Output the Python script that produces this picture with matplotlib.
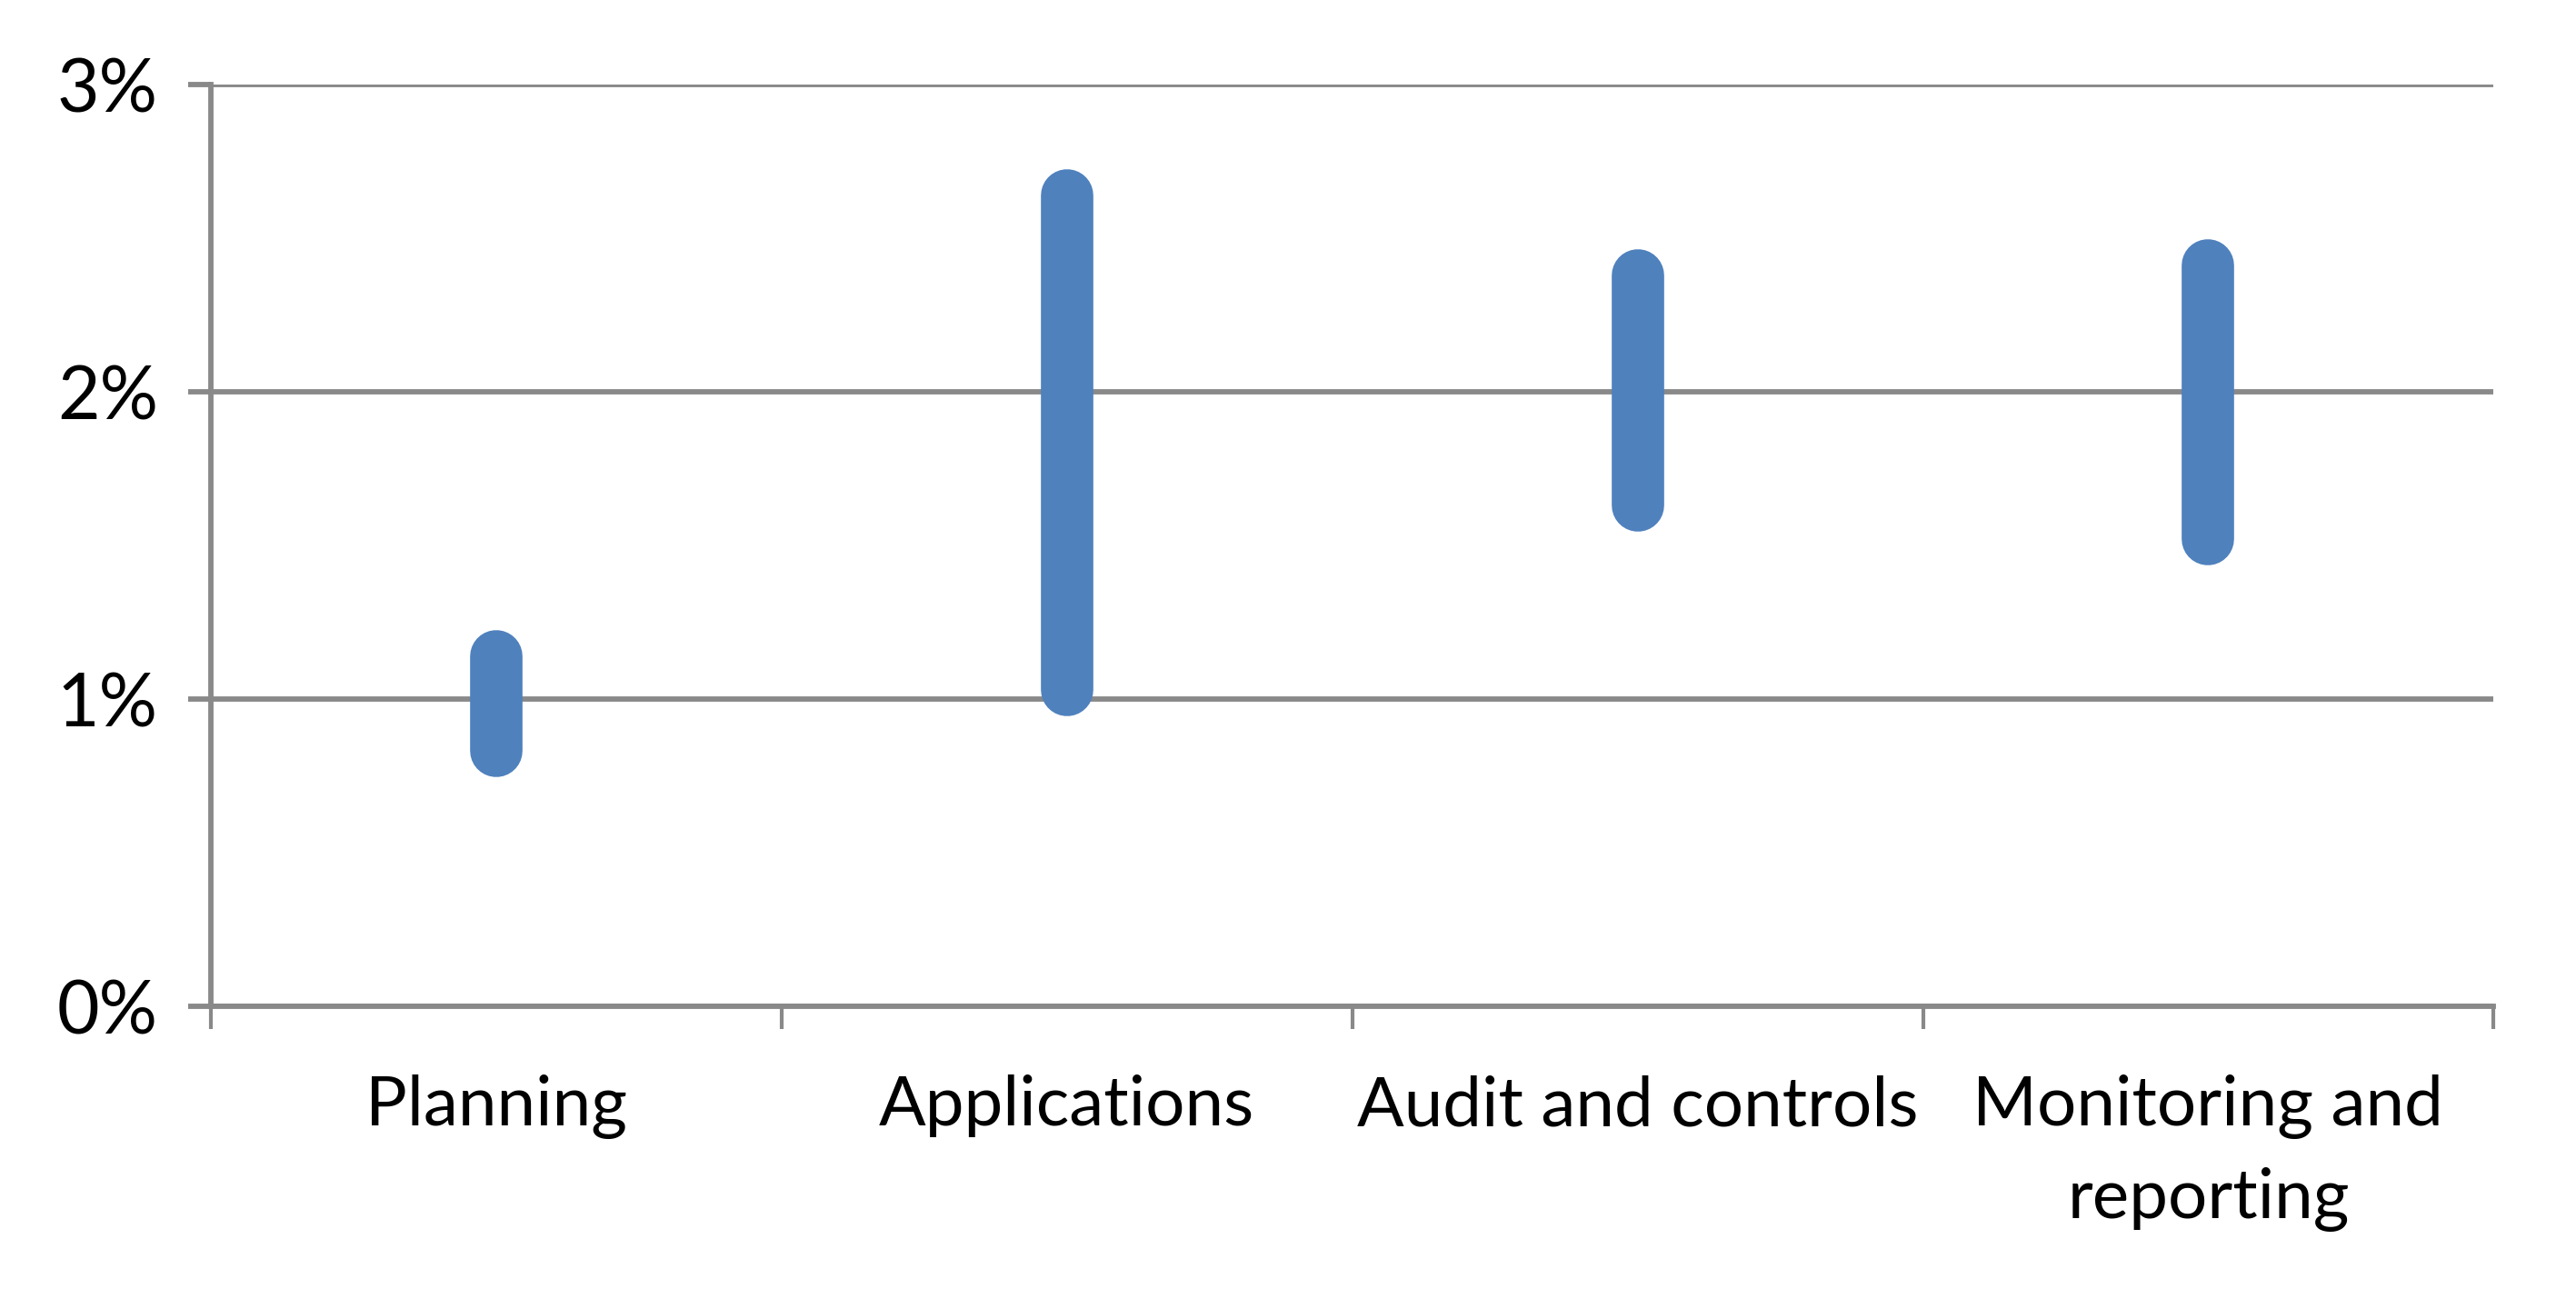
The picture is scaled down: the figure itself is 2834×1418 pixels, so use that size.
import matplotlib.pyplot as plt
from matplotlib.ticker import FuncFormatter

# data (percent)
categories = ["Planning", "Applications", "Audit and controls", "Monitoring and\nreporting"]
low_vals = [0.83, 1.03, 1.63, 1.52]
high_vals = [1.14, 2.64, 2.38, 2.41]
y_ticks = [0, 1, 2, 3]

blue = "#4F81BD"
grey = "#898989"

plt.rcParams['font.family'] = ['Lato', 'DejaVu Sans']

fig = plt.figure(figsize=(28.34, 14.18), dpi=100)
ax = fig.add_axes([0.0819, 0.2193, 0.968 - 0.0819, 0.9344 - 0.2193])

xs = [i + 0.5 for i in range(len(categories))]
ax.vlines(xs, low_vals, high_vals, colors=blue, linewidth=41.5, capstyle='round', zorder=3)

ax.set_xlim(0, len(categories))
ax.set_ylim(0, 3)
ax.set_yticks(y_ticks)
ax.yaxis.set_major_formatter(FuncFormatter(lambda v, p: f"{v:.0f}%"))
ax.grid(axis='y', color=grey, linewidth=4.2, zorder=0)

# category boundaries as major ticks, labels on minor ticks
ax.set_xticks(range(len(categories) + 1))
ax.set_xticklabels([])
ax.set_xticks(xs, minor=True)
ax.set_xticklabels(categories, minor=True, fontsize=55, linespacing=1.55)
ax.tick_params(axis='x', which='minor', length=0, pad=54)
ax.tick_params(axis='x', which='major', length=18, width=3, color=grey, direction='out')
ax.tick_params(axis='y', length=18, width=4.2, color=grey, direction='out', labelsize=58, pad=24)

for side in ['top', 'right']:
    ax.spines[side].set_visible(False)
for side in ['left', 'bottom']:
    ax.spines[side].set_color(grey)
    ax.spines[side].set_linewidth(4.2)

fig.savefig("out.png", dpi=100, facecolor="white")
